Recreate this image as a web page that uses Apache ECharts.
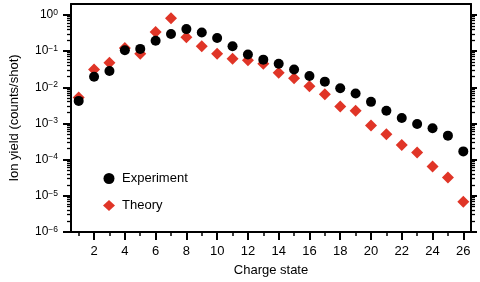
<!DOCTYPE html>
<html><head><meta charset="utf-8">
<script src="https://cdn.jsdelivr.net/npm/echarts@6/dist/echarts.min.js"></script>
<style>html,body{margin:0;padding:0;background:#fff}#c{width:480px;height:282px}</style>
</head><body><div id="c"></div>
<script>
// ---- data ----
const chargeStates = [1,2,3,4,5,6,7,8,9,10,11,12,13,14,15,16,17,18,19,20,21,22,23,24,25,26];
const experiment = [0.0042, 0.0196, 0.028, 0.105, 0.115, 0.194, 0.296, 0.405, 0.327, 0.230, 0.136, 0.080, 0.058, 0.0446, 0.0311, 0.0204, 0.0143, 0.0094, 0.0067, 0.00395, 0.00225, 0.00142, 0.00097, 0.00074, 0.00046, 0.000169];
const theory = [0.0052, 0.031, 0.0475, 0.122, 0.084, 0.336, 0.81, 0.242, 0.136, 0.084, 0.061, 0.056, 0.0446, 0.0253, 0.0177, 0.0107, 0.0064, 0.00296, 0.00225, 0.00088, 0.0005, 0.000253, 0.000158, 0.000065, 0.000032, 0.0000069];
const yDecadeExponents = [-6,-5,-4,-3,-2,-1,0];
const xTickLabels = [2,4,6,8,10,12,14,16,18,20,22,24,26];
const xMinorTicks = [1,3,5,7,9,11,13,15,17,19,21,23,25];
const seriesNames = ['Experiment','Theory'];

// ---- build ----
const FONT = 'Liberation Sans, Arial, Helvetica, sans-serif';
const yMin = -6, yMax = Math.log10(2);
const yMinor = [];
for (let n = -6; n < 0; n++) for (let k = 2; k <= 9; k++) yMinor.push(Math.log10(k) + n);
const toPts = arr => arr.map((v, i) => [chargeStates[i], Math.log10(v)]);

const baseY = {type:'value', min:yMin, max:yMax, splitLine:{show:false}, axisLabel:{show:false},
  axisLine:{show:false, onZero:false}};
const baseX = {type:'value', min:0.5, max:26.5, splitLine:{show:false}, axisLabel:{show:false},
  axisLine:{show:false, onZero:false}};
const lineS = {color:'#000', width:2};

const chart = echarts.init(document.getElementById('c'), null, {renderer:'canvas'});
chart.setOption({
  animation:false,
  backgroundColor:'#fff',
  textStyle:{fontFamily:FONT},
  grid:{left:66, right:9, top:4, bottom:48, containLabel:false},
  legend:{
    data:seriesNames, orient:'vertical', left:103, top:172, padding:0,
    itemWidth:12, itemHeight:11, itemGap:14,
    textStyle:{fontFamily:FONT, fontSize:13, color:'#000', padding:[0,0,0,2]}
  },
  xAxis:[
    Object.assign({}, baseX, {position:'bottom',
      axisLine:{show:true, onZero:false, lineStyle:lineS},
      axisTick:{show:true, customValues:xTickLabels, length:8, lineStyle:{color:'#000', width:2}},
      axisLabel:{show:true, customValues:xTickLabels, margin:13, fontSize:13, color:'#000', fontFamily:FONT},
      name:'Charge state', nameLocation:'middle', nameGap:32,
      nameTextStyle:{fontSize:13, color:'#000', fontFamily:FONT}}),
    Object.assign({}, baseX, {position:'bottom',
      axisTick:{show:true, customValues:xMinorTicks, length:4, lineStyle:{color:'#000', width:1.5}}}),
    Object.assign({}, baseX, {position:'top',
      axisLine:{show:true, onZero:false, lineStyle:lineS}, axisTick:{show:false}})
  ],
  yAxis:[
    Object.assign({}, baseY, {position:'left',
      axisLine:{show:true, onZero:false, lineStyle:lineS},
      axisTick:{show:true, customValues:yDecadeExponents, length:8, lineStyle:{color:'#000', width:2}},
      axisLabel:{show:true, customValues:yDecadeExponents, margin:13,
        formatter: v => '{b|10}{s|' + (v === 0 ? '0' : '\u2212' + (-v)) + '}',
        rich:{
          b:{fontSize:12, lineHeight:14, color:'#000', fontFamily:FONT},
          s:{fontSize:8.5, lineHeight:10, verticalAlign:'top', color:'#000', fontFamily:FONT}
        }},
      name:'Ion yield (counts/shot)', nameLocation:'middle', nameGap:50,
      nameTextStyle:{fontSize:13, color:'#000', fontFamily:FONT}}),
    Object.assign({}, baseY, {position:'left',
      axisTick:{show:true, customValues:yMinor, length:4, lineStyle:{color:'#000', width:1.3}}}),
    Object.assign({}, baseY, {position:'right',
      axisLine:{show:true, onZero:false, lineStyle:lineS},
      axisTick:{show:true, customValues:yDecadeExponents, length:6, lineStyle:{color:'#000', width:2}}}),
    Object.assign({}, baseY, {position:'right',
      axisTick:{show:true, customValues:yMinor, length:4, lineStyle:{color:'#000', width:1.3}}})
  ],
  series:[
    {name:'Theory', type:'scatter', xAxisIndex:0, yAxisIndex:0, symbol:'diamond', symbolSize:12,
      itemStyle:{color:'#e03527', opacity:1}, data:toPts(theory), z:2},
    {name:'Experiment', type:'scatter', xAxisIndex:0, yAxisIndex:0, symbol:'circle', symbolSize:10,
      itemStyle:{color:'#000', opacity:1}, data:toPts(experiment), z:3}
  ]
});
</script></body></html>
